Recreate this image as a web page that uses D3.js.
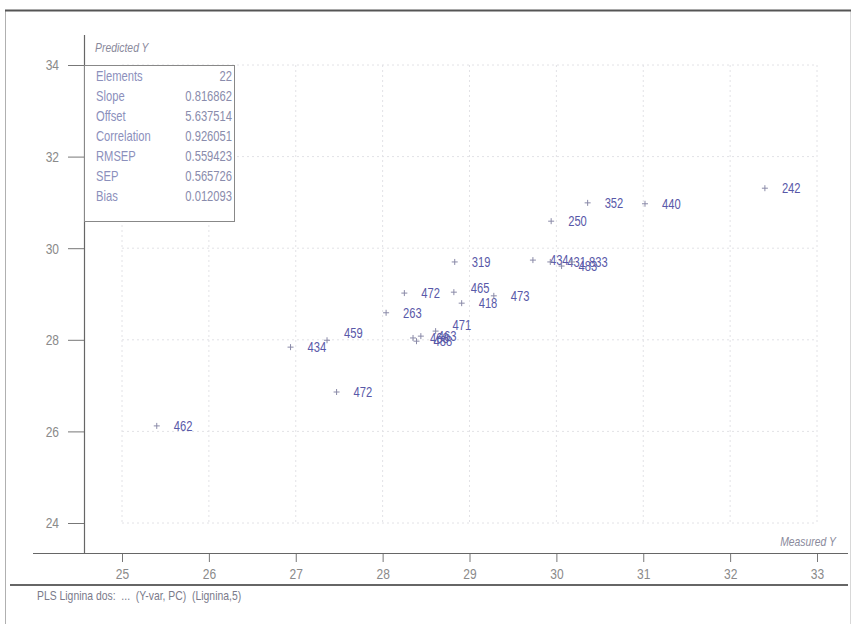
<!DOCTYPE html>
<html>
<head>
<meta charset="utf-8">
<script src="https://cdnjs.cloudflare.com/ajax/libs/d3/7.8.5/d3.min.js"></script>
<style>
  html, body { margin: 0; padding: 0; background: #fff; }
  svg { display: block; }
  text { font-family: "Liberation Sans", Arial, sans-serif; }
</style>
</head>
<body>
<svg id="chart" width="855" height="630"></svg>
<script>
// Sample identifiers, measured lignin and PLS-predicted lignin
const sampleIds = ["462", "434", "459", "472", "263", "472", "468", "488", "463", "471",
                   "465", "418", "473", "319", "434", "431", "483", "833", "250", "352", "440", "242"];
const measured  = [25.40, 26.94, 27.36, 27.47, 28.04, 28.25, 28.35, 28.39, 28.44, 28.61,
                   28.82, 28.91, 29.28, 28.83, 29.73, 29.93, 30.06, 30.18, 29.94, 30.36, 31.02, 32.40];
const predicted = [26.12, 27.84, 27.99, 26.86, 28.59, 29.02, 28.04, 27.97, 28.08, 28.19,
                   29.04, 28.80, 28.96, 29.70, 29.74, 29.70, 29.61, 29.70, 30.59, 30.99, 30.97, 31.31];

// Calibration statistics shown in the summary box
const statNames  = ["Elements", "Slope", "Offset", "Correlation", "RMSEP", "SEP", "Bias"];
const statValues = ["22", "0.816862", "5.637514", "0.926051", "0.559423", "0.565726", "0.012093"];

// Axis tick values
const xTickValues = [25, 26, 27, 28, 29, 30, 31, 32, 33];
const yTickValues = [24, 26, 28, 30, 32, 34];

const SX = 0.8; // horizontal squeeze for the narrow typeface look

const svg = d3.select("#chart");

const x = d3.scaleLinear().domain([25, 33]).range([122, 817]);
const y = d3.scaleLinear().domain([24, 34]).range([523, 65]);

const axisX = 84;      // vertical axis position
const baseY = 553;     // horizontal axis position

// narrow text helper
function ntext(parent, px, py, str, o = {}) {
  return parent.append("text")
    .attr("transform", `translate(${px},${py}) scale(${SX},1)`)
    .attr("text-anchor", o.anchor || "start")
    .attr("font-size", o.size || 13)
    .attr("font-style", o.italic ? "italic" : null)
    .attr("fill", o.fill || "#888")
    .style("white-space", "pre")
    .text(str);
}

// outer frame
svg.append("line").attr("x1", 5.5).attr("x2", 5.5).attr("y1", 10).attr("y2", 624)
  .attr("stroke", "#b0b0b0");
svg.append("line").attr("x1", 850.5).attr("x2", 850.5).attr("y1", 10).attr("y2", 624)
  .attr("stroke", "#d8d8d8");
svg.append("line").attr("x1", 5).attr("x2", 851).attr("y1", 10.5).attr("y2", 10.5)
  .attr("stroke", "#555").attr("stroke-width", 2);

// faint dotted grid
const grid = svg.append("g").attr("stroke", "#e2e2e6").attr("stroke-dasharray", "2,3");
grid.selectAll("line.v").data(xTickValues).join("line")
  .attr("x1", d => x(d)).attr("x2", d => x(d)).attr("y1", y(34)).attr("y2", y(24));
grid.selectAll("line.h").data(yTickValues).join("line")
  .attr("x1", x(25)).attr("x2", x(33)).attr("y1", d => y(d)).attr("y2", d => y(d));

// vertical axis: majors every 2, minors every 0.5
const yAxis = d3.axisLeft(y).tickValues(yTickValues).tickSize(16).tickPadding(9)
  .tickFormat(d3.format("d"));
const yAxisMinor = d3.axisLeft(y).tickValues(d3.range(24, 34.01, 0.5)).tickSize(5).tickFormat("");
const gy = svg.append("g").attr("transform", `translate(${axisX},0)`);
gy.call(yAxisMinor);
gy.call(yAxis);
gy.selectAll(".domain").remove();
gy.selectAll("line").attr("stroke", "#777");
gy.selectAll("text").each(function () {
  const t = d3.select(this);
  t.attr("transform", `scale(${SX},1)`).attr("x", +t.attr("x") / SX);
}).attr("fill", "#8a8a8a").attr("font-size", 15);
svg.append("line").attr("x1", axisX + 0.5).attr("x2", axisX + 0.5).attr("y1", 35).attr("y2", baseY)
  .attr("stroke", "#666").attr("stroke-width", 1.2);

// horizontal axis: majors every 1, minors every 0.1
const xAxis = d3.axisBottom(x).tickValues(xTickValues).tickSize(9).tickPadding(6)
  .tickFormat(d3.format("d"));
const xAxisMinor = d3.axisBottom(x).tickValues(d3.range(25, 33.001, 0.1)).tickSize(4).tickFormat("");
const gx = svg.append("g").attr("transform", `translate(0,${baseY})`);
gx.call(xAxisMinor);
gx.call(xAxis);
gx.selectAll(".domain").remove();
gx.selectAll("line").attr("stroke", "#777");
gx.selectAll("text").attr("fill", "#8a8a8a").attr("font-size", 15)
  .attr("transform", `scale(${SX},1)`);
svg.append("line").attr("x1", 33).attr("x2", 848).attr("y1", baseY + 0.5).attr("y2", baseY + 0.5)
  .attr("stroke", "#666").attr("stroke-width", 1.2);
svg.append("line").attr("x1", 10).attr("x2", 848).attr("y1", baseY + 32).attr("y2", baseY + 32)
  .attr("stroke", "#666").attr("stroke-width", 2);

// axis titles
ntext(svg, 95, 52, "Predicted Y", { size: 13, italic: true, fill: "#8a8a9c" });
ntext(svg, 836, 546, "Measured Y", { size: 13, italic: true, fill: "#8a8a9c", anchor: "end" });

// footer
ntext(svg, 37, 600, "PLS Lignina dos:  ...  (Y-var, PC)  (Lignina,5)", { size: 13, fill: "#7a7a8a" });

// summary statistics box
const box = svg.append("g");
box.append("rect").attr("x", axisX + 0.5).attr("y", 65.5).attr("width", 150).attr("height", 156)
  .attr("fill", "#fff").attr("stroke", "#888");
statNames.forEach((s, i) => ntext(box, 96, 81 + i * 20, s, { size: 14, fill: "#8c90bc" }));
statValues.forEach((s, i) => ntext(box, 232, 81 + i * 20, s, { size: 14, fill: "#8a8cac", anchor: "end" }));

// label nudges for crowded points (index -> [dx, dy])
const nudge = { 2: [0, -7], 9: [0, -6], 10: [0, -4] };

const pts = svg.append("g");
measured.forEach((m, i) => {
  const px = x(m), py = y(predicted[i]);
  pts.append("path").attr("d", `M${px - 3},${py}H${px + 3}M${px},${py - 3}V${py + 3}`)
    .attr("stroke", "#8a8aa8").attr("stroke-width", 1);
  const n = nudge[i] || [0, 0];
  ntext(pts, px + 17 + n[0], py + 5 + n[1], sampleIds[i], { size: 14, fill: "#5858a8" });
});
</script>
</body>
</html>
